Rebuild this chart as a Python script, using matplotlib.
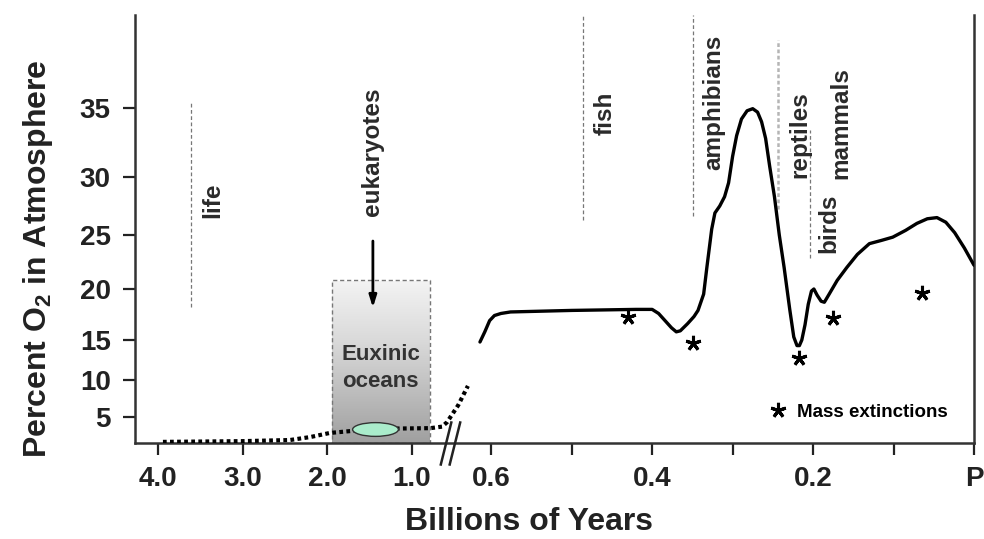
import numpy as np
import matplotlib
matplotlib.use("Agg")
import matplotlib.pyplot as plt
from matplotlib.path import Path
from matplotlib.lines import Line2D
from matplotlib.colors import LinearSegmentedColormap
from matplotlib.patches import Rectangle

plt.rcParams['font.family'] = ['Liberation Sans', 'DejaVu Sans']
plt.rcParams['font.weight'] = 'bold'
plt.rcParams['axes.labelweight'] = 'bold'
plt.rcParams['mathtext.fontset'] = 'custom'
plt.rcParams['mathtext.rm'] = 'Liberation Sans:bold'
plt.rcParams['mathtext.default'] = 'rm'

# early oxygen (dotted), age in billions of years
early_age = [3.94, 3.0, 2.44, 2.2, 1.97, 1.73, 1.44, 1.14, 0.78, 0.70, 0.672, 0.641, 0.629]
early_o2 = [1.65, 1.75, 1.9, 2.3, 2.85, 3.1, 3.4, 3.45, 3.5, 3.7, 4.3, 6.6, 9.2]

# phanerozoic oxygen (solid)
phan_age = [0.614, 0.608, 0.602, 0.596, 0.588, 0.576, 0.5, 0.42, 0.40, 0.392, 0.384, 0.376,
            0.37, 0.365, 0.356, 0.348, 0.343, 0.336, 0.332, 0.326, 0.322, 0.316, 0.310,
            0.305, 0.300, 0.295, 0.289, 0.282, 0.275, 0.269, 0.264, 0.259, 0.254, 0.248,
            0.242, 0.236, 0.229, 0.224, 0.220, 0.217, 0.214, 0.210, 0.206, 0.202, 0.199,
            0.195, 0.19, 0.186, 0.18, 0.17, 0.158, 0.145, 0.13, 0.115, 0.101, 0.085,
            0.071, 0.058, 0.046, 0.035, 0.024, 0.012, 0.0]
phan_o2 = [14.75, 15.8, 16.9, 17.4, 17.6, 17.75, 17.9, 18.0, 18.0, 17.6, 16.9, 16.2,
           15.8, 15.9, 16.6, 17.3, 17.9, 19.5, 22.0, 25.5, 26.9, 27.5, 28.3,
           29.5, 31.5, 33.0, 34.2, 34.8, 34.95, 34.7, 34.0, 32.8, 30.8, 28.3,
           25.0, 22.0, 18.0, 15.3, 14.3, 14.3, 15.0, 16.5, 18.5, 19.8, 20.0,
           19.4, 18.8, 18.7, 19.5, 20.8, 22.0, 23.2, 24.2, 24.5, 24.8, 25.4,
           26.0, 26.4, 26.5, 26.1, 25.2, 23.8, 22.2]

# mass extinctions
ext_age = [0.430, 0.349, 0.217, 0.175, 0.065]
ext_o2 = [17.25, 14.6, 12.75, 17.2, 19.6]

# first appearances: label, age, line bottom, line top
groups = ["life", "fish", "amphibians", "reptiles", "birds"]
group_age = [3.61, 0.486, 0.349, 0.243, 0.204]
group_lo = [18.2, 26.3, 26.6, 27.2, 22.9]
group_hi = [35.4, 41.7, 41.7, 39.9, 33.4]
labels = ["life", "eukaryotes", "fish", "amphibians", "reptiles", "birds", "mammals"]
label_age = [3.35, 1.46, 0.458, 0.323, 0.216, 0.181, 0.166]
label_o2 = [28.0, 31.8, 34.6, 35.4, 33.1, 26.0, 33.9]

xticks = [4.0, 3.0, 2.0, 1.0, 0.6, 0.5, 0.4, 0.3, 0.2, 0.1, 0.0]
xticklabels = ["4.0", "3.0", "2.0", "1.0", "0.6", "", "0.4", "", "0.2", "", "P"]
yticks = [5, 10, 15, 20, 25, 30, 35]

# broken / uneven axes as piecewise scales
AGE_K = np.array([4.27, 0.75, 0.65, 0.0])
AGE_U = np.array([0.0, 298.0, 316.0, 839.0])
O2_K = np.array([1.5, 5, 10, 15, 20, 25, 30, 35, 41.7])
O2_U = np.array([0.0, 26, 63, 103, 154, 208, 266, 335, 428])


def age_fwd(a):
    return np.interp(-np.asarray(a, dtype=float), -AGE_K, AGE_U)


def age_inv(u):
    return -np.interp(np.asarray(u, dtype=float), AGE_U, -AGE_K)


def o2_fwd(v):
    return np.interp(np.asarray(v, dtype=float), O2_K, O2_U)


def o2_inv(u):
    return np.interp(np.asarray(u, dtype=float), O2_U, O2_K)


fig = plt.figure(figsize=(9.84, 5.39), dpi=100)
ax = fig.add_axes([135 / 984, 96 / 539, 839 / 984, 428 / 539])
ax.set_xscale('function', functions=(age_fwd, age_inv))
ax.set_yscale('function', functions=(o2_fwd, o2_inv))

# euxinic ocean box
cmap = LinearSegmentedColormap.from_list("gr", ["#a0a0a0", "#f3f3f3"])
ax.imshow(np.linspace(0, 1, 200).reshape(-1, 1), cmap=cmap, origin='lower',
          extent=[1.94, 0.78, 1.5, 20.8], aspect='auto', zorder=0)
ax.add_patch(Rectangle((1.94, 1.5), 0.78 - 1.94, 20.8 - 1.5, fill=False,
                       ec="#777777", lw=1, ls=(0, (3, 2)), zorder=1))
ax.text(1.37, 11.5, "Euxinic\noceans", ha='center', va='center', fontsize=16,
        color="#333333", linespacing=1.35)

ax.plot(early_age, early_o2, color='black', lw=3.0, ls=(0, (0.9, 0.8)), zorder=3)
ax.plot(phan_age, phan_o2, color='black', lw=2.4, zorder=3, solid_capstyle='round',
        solid_joinstyle='round')

# green ellipse
ell = Path.unit_circle().transformed(matplotlib.transforms.Affine2D().scale(1, 0.3))
ax.plot([1.44], [3.4], marker=ell, markersize=33, mfc="#aaeccb", mec="#333333",
        mew=1, ls='none', zorder=4)

for g, a, lo, hi in zip(groups, group_age, group_lo, group_hi):
    if g == "reptiles":
        ax.plot([a, a], [lo, hi], color="#b5b5b5", lw=1.8, ls=(0, (1.5, 1)), zorder=1)
    else:
        ax.plot([a, a], [lo, hi], color="#777777", lw=0.9, ls=(0, (3, 2)), zorder=1)

for t, a, v in zip(labels, label_age, label_o2):
    ax.text(a, v, t, rotation=90, ha='center', va='center', fontsize=17.5, color="#2a2a2a")

ax.annotate("", xy=(1.46, 17.9), xytext=(1.46, 24.7),
            arrowprops=dict(arrowstyle='-|>,head_length=0.7,head_width=0.22',
                            color='black', lw=2))

ax.plot(ext_age, ext_o2, ls='none', marker=(5, 2, 0), markersize=11, mew=2.2,
        color='black', zorder=4)
star = Line2D([], [], ls='none', marker=(5, 2, 0), markersize=11, mew=2.2, color='black')
ax.legend([star], ["Mass extinctions"], loc='center left', bbox_to_anchor=(0.742, 0.072),
          frameon=False, fontsize=13.5, handletextpad=0.4, borderpad=0, handlelength=1.2)

# axis break marks
brk = Path([(-0.45, -1), (0.05, 1), (-0.05, -1), (0.45, 1)],
           [Path.MOVETO, Path.LINETO, Path.MOVETO, Path.LINETO])
ax.plot([0.656], [1.5], marker=brk, markersize=32, mfc='none', mec='#222222',
        mew=1.8, ls='none', clip_on=False, zorder=5)

ax.set_xlim(0.0, 4.27)
ax.set_ylim(1.5, 41.7)
ax.set_xticks(xticks)
ax.set_xticklabels(xticklabels)
ax.set_yticks(yticks)
ax.minorticks_off()
ax.tick_params(axis='both', direction='out', length=8.5, width=1.6, color='#222222',
               labelsize=20, labelcolor='#222222')
ax.tick_params(axis='x', pad=8)
ax.tick_params(axis='y', pad=9)
for s in ['left', 'bottom', 'right']:
    ax.spines[s].set_linewidth(1.8)
    ax.spines[s].set_color('#333333')
ax.spines['top'].set_visible(False)

ax.set_xlabel("Billions of Years", fontsize=23, color='#222222')
ax.xaxis.set_label_coords(0.47, -0.185)
ax.set_ylabel("Percent O$_2$ in Atmosphere", fontsize=23, color='#222222')
ax.yaxis.set_label_coords(-0.116, 0.43)
ax.xaxis.label.set_va('center')
ax.yaxis.label.set_va('center')

fig.savefig("out.png", dpi=100)
